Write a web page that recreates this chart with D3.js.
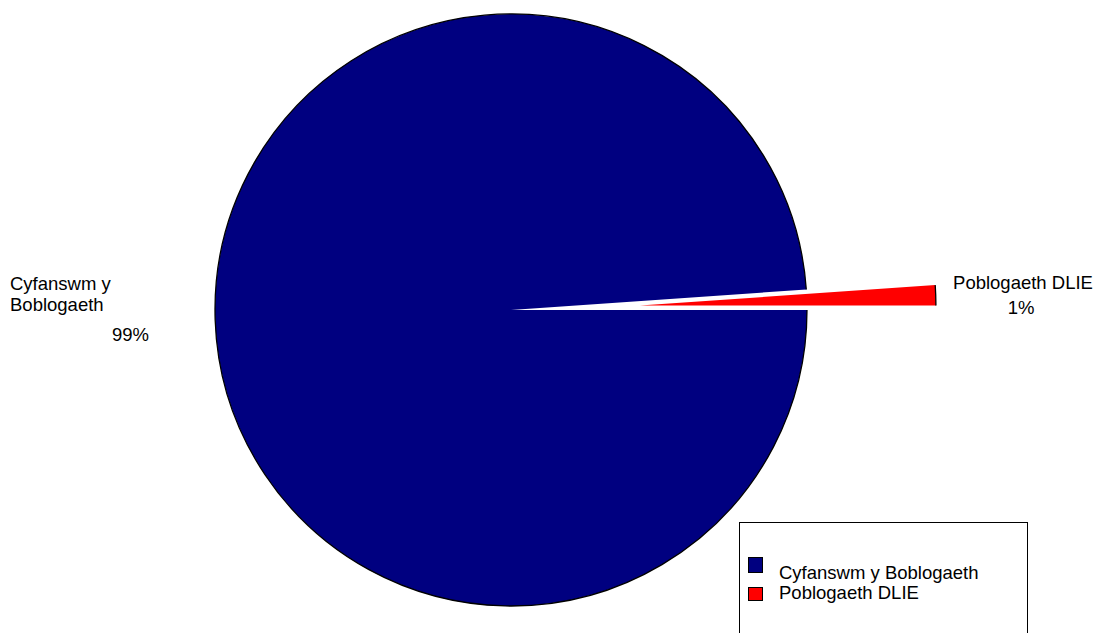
<!DOCTYPE html>
<html>
<head>
<meta charset="utf-8">
<script src="https://cdn.jsdelivr.net/npm/d3@7"></script>
<style>
  body { margin: 0; background: #fff; }
  svg text { font-family: "Liberation Sans", Arial, sans-serif; fill: #000; }
</style>
</head>
<body>
<div id="chart"></div>
<script>
const categories = ["Cyfanswm y Boblogaeth", "Poblogaeth DLIE"];
const values = [98.9, 1.1];
const pctLabels = ["99%", "1%"];
const colors = ["#000080", "#ff0000"];

const width = 1095, height = 633;
const cx = 511, cy = 310, radius = 296;
const explode = [0, 129];
const fs = "18.5px";

const svg = d3.select("#chart").append("svg")
    .attr("width", width)
    .attr("height", height);

const data = categories.map((c, i) => ({ name: c, value: values[i], color: colors[i], i }));

// start at 3 o'clock, red slice goes counter-clockwise above the horizontal
const pie = d3.pie()
    .value(d => d.value)
    .sort(null)
    .startAngle(Math.PI / 2)
    .endAngle(Math.PI / 2 + 2 * Math.PI);

const arcs = pie(data);
const arc = d3.arc().innerRadius(0).outerRadius(radius);

const slices = svg.selectAll(".slice")
    .data(arcs)
    .enter()
    .append("g")
    .attr("class", "slice")
    .attr("transform", d => {
        const mid = (d.startAngle + d.endAngle) / 2;
        const off = explode[d.data.i];
        return `translate(${cx + Math.sin(mid) * off},${cy - Math.cos(mid) * off})`;
    });

slices.append("path")
    .attr("d", arc)
    .attr("fill", d => d.data.color);

// outline only along the outer arc
slices.append("path")
    .attr("d", d => {
        const a0 = d.startAngle - Math.PI / 2, a1 = d.endAngle - Math.PI / 2;
        const p = d3.path();
        p.arc(0, 0, radius, a0, a1);
        return p.toString();
    })
    .attr("fill", "none")
    .attr("stroke", "#000")
    .attr("stroke-width", 1.3);

// slice labels
svg.append("text").attr("x", 10).attr("y", 290).style("font-size", fs).text("Cyfanswm y");
svg.append("text").attr("x", 10).attr("y", 311).style("font-size", fs).text("Boblogaeth");
svg.append("text").attr("x", 130.5).attr("y", 341).attr("text-anchor", "middle").style("font-size", fs).text(pctLabels[0]);

svg.append("text").attr("x", 1023).attr("y", 289).attr("text-anchor", "middle").style("font-size", fs).text(categories[1]);
svg.append("text").attr("x", 1021).attr("y", 314).attr("text-anchor", "middle").style("font-size", fs).text(pctLabels[1]);

// legend
const legend = svg.append("g").attr("transform", "translate(739.5,522.5)");
legend.append("rect")
    .attr("width", 288).attr("height", 130)
    .attr("fill", "#fff").attr("stroke", "#000").attr("stroke-width", 1);

const rows = [{ y: 35, ty: 56 }, { y: 65, ty: 76 }];
categories.forEach((c, i) => {
    legend.append("rect")
        .attr("x", 9).attr("y", rows[i].y)
        .attr("width", 14).attr("height", i === 0 ? 15 : 13)
        .attr("fill", colors[i]).attr("stroke", "#000").attr("stroke-width", 1);
    legend.append("text")
        .attr("x", 39.5).attr("y", rows[i].ty)
        .style("font-size", fs)
        .text(c);
});
</script>
</body>
</html>
